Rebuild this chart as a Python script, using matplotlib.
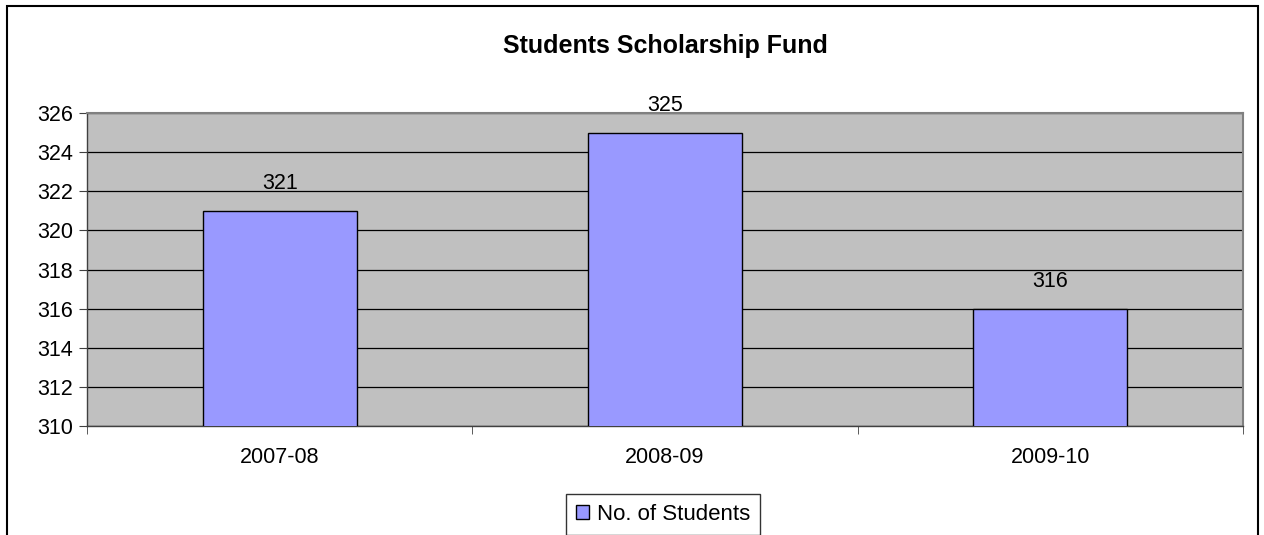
import matplotlib
matplotlib.use('Agg')
import matplotlib.pyplot as plt
from matplotlib.patches import Rectangle
import numpy as np

plt.rcParams['font.family'] = ['Liberation Sans', 'DejaVu Sans']

# data
years = ['2007-08', '2008-09', '2009-10']
students = [321, 325, 316]
y_ticks = [310, 312, 314, 316, 318, 320, 322, 324, 326]

fig = plt.figure(figsize=(12.64, 5.35), dpi=100)
ax = fig.add_axes([87/1264, 1 - 426/535, (1243 - 87)/1264, (426 - 113)/535])

x = np.arange(len(years))
bars = ax.bar(x, students, width=0.4, color='#9999FF', edgecolor='black',
              linewidth=1.0, label='No. of Students', zorder=3)

ax.set_facecolor('#C0C0C0')
ax.set_ylim(310, 326)
ax.set_xlim(-0.5, len(years) - 0.5)
ax.set_yticks(y_ticks)
ax.yaxis.grid(True, color='black', linewidth=0.9, zorder=1)
ax.set_axisbelow(True)

# category labels in centre, tick marks on the boundaries
ax.set_xticks(x)
ax.set_xticklabels(years, fontsize=15.5)
ax.tick_params(axis='x', which='major', length=0, pad=15)
ax.set_xticks(np.arange(-0.5, len(years)), minor=True)
ax.tick_params(axis='x', which='minor', length=6, color='#404040', direction='out')
ax.tick_params(axis='y', labelsize=15.5, length=6, color='#404040', pad=4)

for s in ax.spines.values():
    s.set_color('#808080')
    s.set_linewidth(1.5)
ax.spines['left'].set_color('#404040')
ax.spines['bottom'].set_color('#404040')
ax.spines['left'].set_linewidth(1.0)
ax.spines['bottom'].set_linewidth(1.0)

for xi, v in zip(x, students):
    ax.annotate(str(v), (xi, v), xytext=(0, 12), textcoords='offset points',
                ha='center', va='bottom', fontsize=15.5)

fig.text(0.5 * (87 + 1243) / 1264, 1 - 46/535, 'Students Scholarship Fund',
         ha='center', va='center', fontsize=18, fontweight='bold')

leg = fig.legend(handles=[bars], labels=['No. of Students'], loc='center',
                 bbox_to_anchor=(663/1264, 1 - 514/535), fontsize=16,
                 frameon=True, fancybox=False, edgecolor='black',
                 handlelength=0.6, handleheight=0.6, handletextpad=0.35,
                 borderpad=0.45, borderaxespad=0)
leg.get_frame().set_linewidth(1.0)

# outer chart border
fig.patches.append(Rectangle((7/1264, -0.02), (1258 - 7)/1264, 1 - 6/535 + 0.02,
                             transform=fig.transFigure, fill=False,
                             edgecolor='black', linewidth=1.5))

fig.savefig('out.png', dpi=100)
